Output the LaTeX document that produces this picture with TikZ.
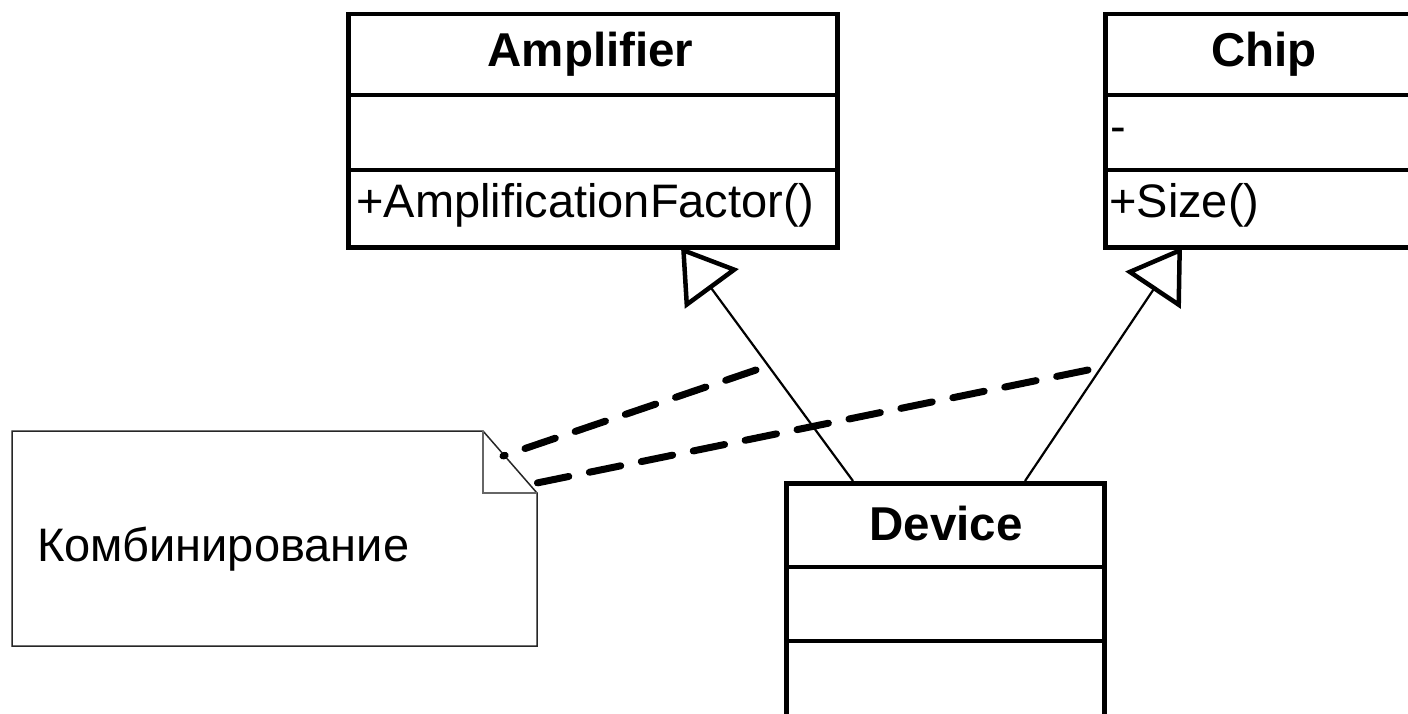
\documentclass[tikz,border=0pt]{standalone}
\usepackage{fontspec}
\setmainfont{Liberation Sans}
\usetikzlibrary{arrows.meta}
\begin{document}
\begin{tikzpicture}[x=1pt,y=-1pt,
  classbox/.style={draw, line width=4.5pt, fill=white, inner sep=0pt, anchor=north west},
  divider/.style={line width=4.5pt},
  ctitle/.style={font=\fontsize{47.5}{50}\selectfont\bfseries, inner sep=0pt, anchor=base},
  member/.style={font=\fontsize{47}{50}\selectfont, inner sep=0pt, anchor=base west},
  inherit/.style={line width=2.2pt, -{Triangle[open, length=52pt, width=66pt, line width=4.5pt]}},
  noteline/.style={line width=7pt, line cap=round, dash pattern=on 32pt off 21pt},
  notebody/.style={draw=black!85, line width=1.5pt, fill=white},
  notefold/.style={draw=black!60, line width=1.5pt},
  notetext/.style={font=\fontsize{47}{50}\selectfont, inner sep=0pt, anchor=base west}
]
\useasboundingbox (0,0) rectangle (1408,714);
\fill[white] (0,0) rectangle (1408,714);

% class Amplifier
\node[classbox, minimum width=489pt, minimum height=233pt] (amp) at (346,12) {};
\draw[divider] (amp.north west) ++(0,83) -- ++(489,0);
\draw[divider] (amp.north west) ++(0,158) -- ++(489,0);
\node[ctitle] (ampname) at (590.5,67) {Amplifier};
\node[member] (ampop) at (356,218) {+AmplificationFactor()};

% class Chip
\node[classbox, minimum width=322pt, minimum height=233pt] (chip) at (1103,12) {};
\draw[divider] (chip.north west) ++(0,83) -- ++(322,0);
\draw[divider] (chip.north west) ++(0,158) -- ++(322,0);
\node[ctitle] (chipname) at (1264,67) {Chip};
\node[member] (chipattr) at (1110,143) {-};
\node[member] (chipop) at (1109,218) {+Size()};

% class Device
\node[classbox, minimum width=318pt, minimum height=260pt] (dev) at (784,481) {};
\draw[divider] (dev.north west) ++(0,86) -- ++(318,0);
\draw[divider] (dev.north west) ++(0,160) -- ++(318,0);
\node[ctitle] (devname) at (946,540) {Device};

% note with folded corner
\draw[notebody] (12,431) -- (483,431) -- (537,493) -- (537,646) -- (12,646) -- cycle;
\draw[notefold] (483,431) -- (483,493) -- (537,493);
\node[notetext] (note) at (37,561) {Комбинирование};

% generalisation connectors
\coordinate (ampTip) at (681,247);
\coordinate (devL) at (853,481);
\coordinate (chipTip) at (1182,247);
\coordinate (devR) at (1025,481);
\draw[inherit] (devL) -- (ampTip);
\draw[inherit] (devR) -- (chipTip);

% note anchors
\coordinate (ampAnchor) at (756,370);
\coordinate (noteA) at (503,456);
\coordinate (chipAnchor) at (1088,370);
\coordinate (noteB) at (532,484);
\draw[noteline] (ampAnchor) -- (noteA);
\draw[noteline] (chipAnchor) -- (noteB);
\end{tikzpicture}
\end{document}
